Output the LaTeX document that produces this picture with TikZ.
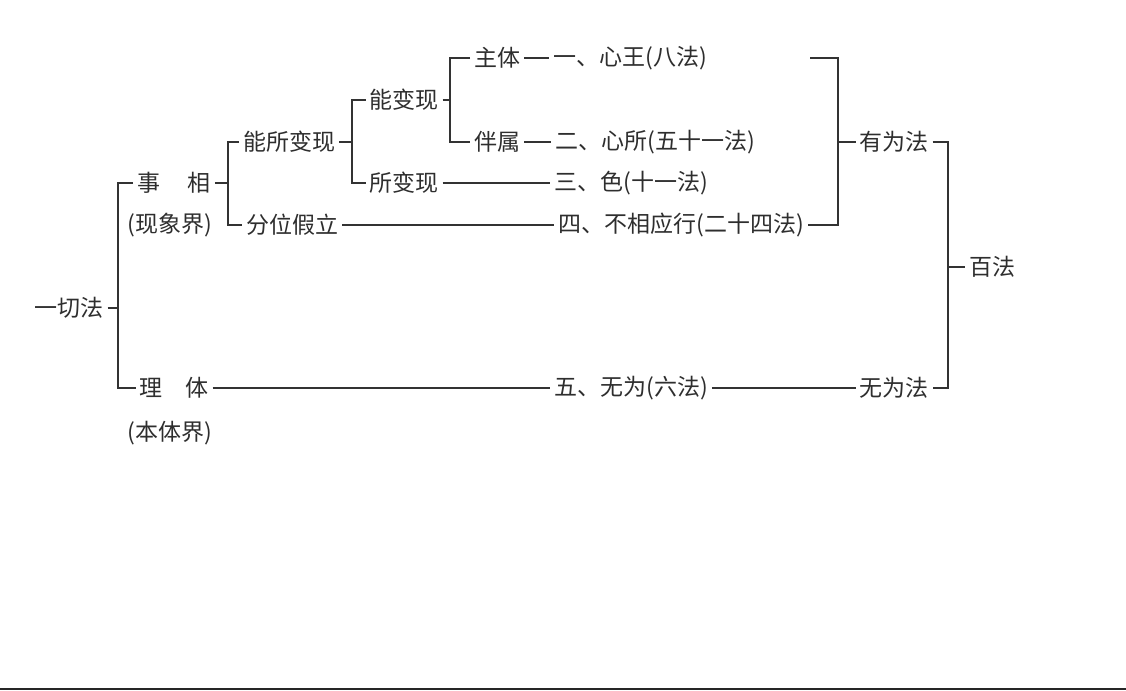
\documentclass[tikz,border=0pt]{standalone}
\usepackage{fontspec}
\newfontfamily\cjk{Noto Sans CJK SC}

\begin{document}
\begin{tikzpicture}[x=0.5pt, y=-0.5pt]
    \tikzset{
        term/.style={inner sep=0pt, outer sep=2pt, text=black!82, font=\cjk\fontsize{11.5}{12}\selectfont},
        line/.style={draw, black!80, line width=0.7pt}
    }
    \useasboundingbox (0,0) rectangle (1126,691);

    % left side of the tree
    \node [term] (yiqie) at (69,308) {一切法};
    \node [term] (shixiang) at (174,183) {事\hspace{1.2em}相};
    \node [term] (xianxiang) at (170,225) {(现象界)};
    \node [term] (liti) at (174,388) {理\hspace{1.0em}体};
    \node [term] (benti) at (170,433) {(本体界)};
    \node [term] (nengsuo) at (289,142) {能所变现};
    \node [term] (fenwei) at (292,225) {分位假立};
    \node [term] (nengbian) at (404,100) {能变现};
    \node [term] (suobian) at (404,183) {所变现};
    \node [term] (zhuti) at (497,58) {主体};
    \node [term] (banshu) at (497,142) {伴属};

    % the five groups
    \node [term] (xinwang) at (630,58) {一、心王(八法)};
    \node [term] (xinsuo) at (655,142) {二、心所(五十一法)};
    \node [term] (se) at (631,183) {三、色(十一法)};
    \node [term] (buxiang) at (681,225) {四、不相应行(二十四法)};
    \node [term] (wuwei) at (631,388) {五、无为(六法)};

    % right side
    \node [term] (youweifa) at (894,142) {有为法};
    \node [term] (wuweifa) at (894,388) {无为法};
    \node [term] (baifa) at (992,267) {百法};

    \coordinate (b1) at (118,308);
    \coordinate (b2) at (228,183);
    \coordinate (b3) at (352,142);
    \coordinate (b4) at (450,100);
    \coordinate (c1) at (810,58);
    \coordinate (b5) at (838,142);
    \coordinate (b6) at (948,267);

    \path [line] (yiqie) -- (b1);
    \path [line] (shixiang.west) -| (b1) |- (liti.west);
    \path [line] (shixiang) -- (b2);
    \path [line] (nengsuo.west) -| (b2) |- (fenwei.west);
    \path [line] (nengsuo) -- (b3);
    \path [line] (nengbian.west) -| (b3) |- (suobian.west);
    \path [line] (nengbian) -- (b4);
    \path [line] (zhuti.west) -| (b4) |- (banshu.west);

    \path [line] (zhuti) -- (xinwang);
    \path [line] (banshu) -- (xinsuo);
    \path [line] (suobian) -- (se);
    \path [line] (fenwei) -- (buxiang);
    \path [line] (liti) -- (wuwei);
    \path [line] (wuwei) -- (wuweifa);

    \path [line] (c1) -| (b5) |- (buxiang.east);
    \path [line] (b5) -- (youweifa);
    \path [line] (youweifa.east) -| (b6) |- (wuweifa.east);
    \path [line] (b6) -- (baifa);

    \draw [black!85, line width=1.2pt] (0,689) -- (1126,689);
\end{tikzpicture}
\end{document}
